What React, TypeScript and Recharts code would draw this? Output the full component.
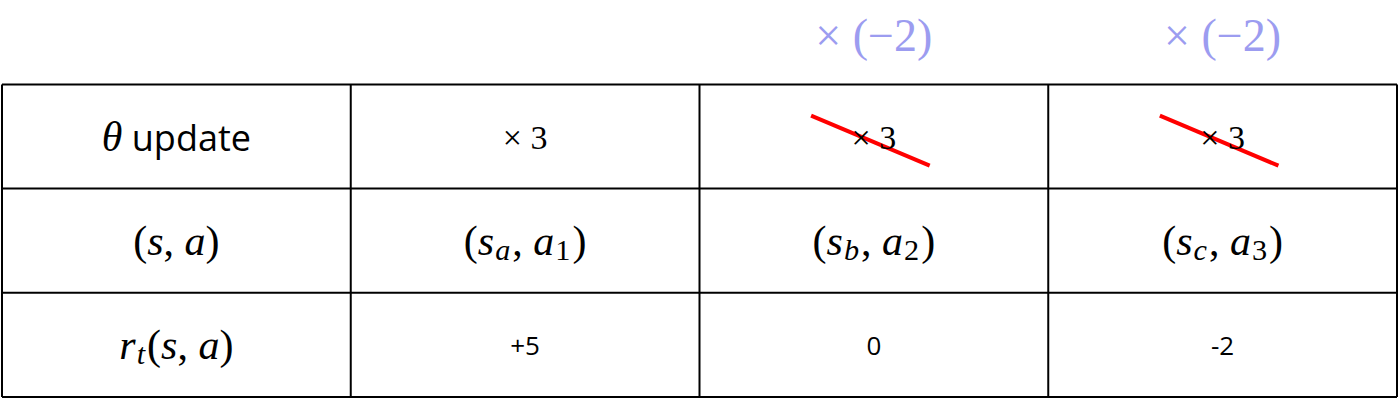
import { ScatterChart, Scatter, XAxis, YAxis, ReferenceLine } from 'recharts'

// table content: $...$ marks math, _x marks a subscript
const rowLabels = ['$θ$ update', '$(s, a)$', '$r_t(s, a)$']
const stepCells = [
  ['× 3', '× 3', '× 3'],
  ['$(s_a, a_1)$', '$(s_b, a_2)$', '$(s_c, a_3)$'],
  ['+5', '0', '-2'],
]
const multipliers = ['', '× (−2)', '× (−2)']
const struckCols = [1, 2]

const COLS = 4
const ROWS = 3

const cells: { x: number; y: number; text: string; kind: string }[] = []
rowLabels.forEach((t, r) => cells.push({ x: 0.5, y: r + 0.5, text: t, kind: 'label' }))
stepCells.forEach((row, r) =>
  row.forEach((t, c) => cells.push({ x: c + 1.5, y: r + 0.5, text: t, kind: r === 1 ? 'label' : 'value' })),
)
multipliers.forEach((t, c) => {
  if (t) cells.push({ x: c + 1.5, y: -0.47, text: t, kind: 'mult' })
})

const MATH = '"Liberation Serif", "DejaVu Serif", serif'
const SANS = '"Open Sans", "Liberation Sans", sans-serif'

function renderMath(src: string, size: number, key: string) {
  const out: any[] = []
  for (let i = 0; i < src.length; i++) {
    const ch = src[i]
    if (ch === '_') {
      const s = src[i + 1]
      i++
      out.push(
        <tspan key={key + i} fontSize={size * 0.72} dx={1} dy={size * 0.22} fontStyle={/[a-z]/.test(s) ? 'italic' : 'normal'}>
          {s}
        </tspan>,
      )
      out.push(<tspan key={key + i + 'r'} dx={2} dy={-size * 0.22}>{'\u200b'}</tspan>)
      continue
    }
    const letter = /[a-zθ]/.test(ch)
    out.push(
      <tspan key={key + i} fontStyle={letter ? 'italic' : 'normal'}>
        {ch === ' ' ? '\u00a0' : ch}
      </tspan>,
    )
  }
  return out
}

function CellText(props: any) {
  const { cx, cy, payload } = props
  const { text, kind } = payload
  const parts = text.split('$')
  const mathSize = 42
  const textSize = kind === 'value' ? 26 : 36
  const fill = kind === 'mult' ? '#9c9cf0' : '#000'
  const children: any[] = []
  parts.forEach((p: string, i: number) => {
    if (!p) return
    if (i % 2 === 1) {
      children.push(
        <tspan key={'m' + i} fontFamily={MATH} fontSize={mathSize}>
          {renderMath(p, mathSize, 'k' + i)}
        </tspan>,
      )
    } else if (p.startsWith('×')) {
      children.push(
        <tspan key={'t' + i} fontFamily={MATH} fontSize={kind === 'mult' ? 46 : 34}>
          {p}
        </tspan>,
      )
    } else {
      children.push(
        <tspan key={'t' + i} fontFamily={SANS} fontSize={textSize}>
          {p}
        </tspan>,
      )
    }
  })
  return (
    <text x={cx} y={cy} textAnchor="middle" dominantBaseline="central" fill={fill}>
      {children}
    </text>
  )
}

export default function App() {
  return (
    <div style={{ position: 'absolute', left: 0, top: 0, background: '#fff' }}>
      <ScatterChart width={1400} height={400} margin={{ top: 0, right: 3, bottom: 3, left: 2 }}>
        <XAxis type="number" dataKey="x" domain={[0, COLS]} hide />
        <YAxis type="number" dataKey="y" domain={[-0.81, ROWS]} reversed hide />
        {Array.from({ length: COLS + 1 }, (_, c) => (
          <ReferenceLine key={'v' + c} segment={[{ x: c, y: 0 }, { x: c, y: ROWS }]} stroke="#000" strokeWidth={2} />
        ))}
        {Array.from({ length: ROWS + 1 }, (_, r) => (
          <ReferenceLine key={'h' + r} segment={[{ x: 0, y: r }, { x: COLS, y: r }]} stroke="#000" strokeWidth={2} />
        ))}
        <Scatter data={cells} shape={<CellText />} isAnimationActive={false} />
        {struckCols.map((c) => (
          <ReferenceLine
            key={'s' + c}
            segment={[{ x: c + 1.32, y: 0.3 }, { x: c + 1.66, y: 0.78 }]}
            stroke="#ff0000"
            strokeWidth={4}
          />
        ))}
      </ScatterChart>
    </div>
  )
}
